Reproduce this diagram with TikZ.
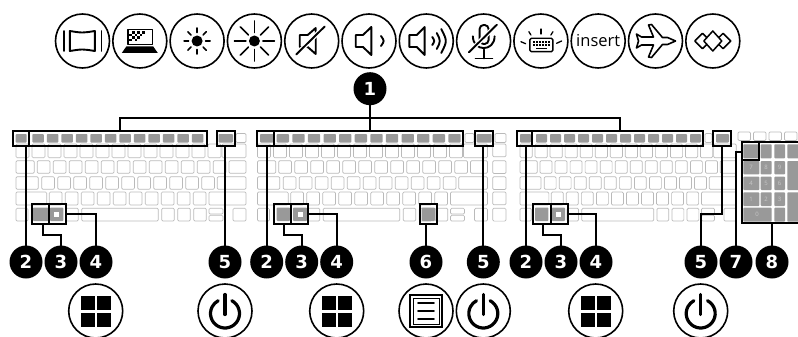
\documentclass[tikz,border=0pt]{standalone}
\usepackage{fontspec}
\usepackage{tikz, tkz-graph}
\setmainfont{Open Sans}
\newfontfamily\badgefont{DejaVu Sans}

\tikzset{
  keycap/.style={draw=black!27, line width=.7pt, rounded corners=1.2pt},
  graykey/.style={fill=black!40, rounded corners=.8pt},
  hlbox/.style={draw=black, line width=1.8pt, inner sep=0pt, outer sep=0pt},
  callout/.style={draw=black, line width=1.7pt},
  glyph/.style={line width=1.9pt, line join=round, line cap=round},
  numlabel/.style={text=black!22, inner sep=0pt, font=\fontsize{6}{6}\selectfont}
}

% one keyboard: left edge, horizontal scale
\newcommand{\KeyBlock}[2]{
  \begin{scope}[shift={(#1,0)},xscale=#2]
    \foreach \k in {0,...,12} \draw[keycap] ({\k*16},144) rectangle ++(13,13.7);
    \draw[keycap] (206,144) rectangle (230,157.7);
    \draw[keycap] (0,160.7) rectangle (18.3,173.3);
    \foreach \k in {0,...,11} \draw[keycap] ({21.3+\k*16},160.7) rectangle ++(12.7,12.6);
    \draw[keycap] (213,160.7) rectangle (230,173.3);
    \draw[keycap] (0,176.7) rectangle (22.3,189.3);
    \foreach \k in {0,...,10} \draw[keycap] ({25.7+\k*16},176.7) rectangle ++(12.7,12.6);
    \draw[keycap] (201.3,176.7) rectangle (230,189.3);
    \draw[keycap] (0,192) rectangle (30.7,205);
    \foreach \k in {0,...,9} \draw[keycap] ({33.3+\k*16},192) rectangle ++(12.7,13);
    \draw[keycap] (193,192) rectangle (230,205);
    \draw[keycap] (0,208.3) rectangle (12,221);
    \draw[keycap] (50,208.3) rectangle (62.3,221);
    \draw[keycap] (65.7,208.3) rectangle (142.3,221);
    \foreach \k in {0,1,2} \draw[keycap] ({145.7+\k*16},208.3) rectangle ++(12.6,12.7);
    \draw[keycap] (193,208.3) rectangle (207,214);
    \draw[keycap] (193,215.3) rectangle (207,221);
    \draw[keycap] (217,208.3) rectangle (230,221);
  \end{scope}
}

% function row: esc left/right, first F key, pitch, width, power left/right
\newcommand{\FnRow}[7]{
  \fill[graykey] (#1,134) rectangle (#2,142.5);
  \foreach \k in {0,...,11} \fill[graykey] ({#3+\k*#4},134) rectangle ++(#5,8.5);
  \fill[graykey] (#6,134) rectangle (#7,142.5);
}

\newcommand{\IconWin}[1]{
  \begin{scope}[shift={(#1)}]
    \fill (-15,-15.5) rectangle (-1,-1);
    \fill (1,-15.5) rectangle (15.5,-1);
    \fill (-15,1.5) rectangle (-1,15.5);
    \fill (1,1.5) rectangle (15.5,15.5);
  \end{scope}
}

\newcommand{\IconPower}[1]{
  \begin{scope}[shift={(#1)}]
    \draw[glyph, line width=3.2pt] (0,2.5) ++(62:14.5pt) arc (62:-242:14.5pt);
    \draw[glyph, line width=3.2pt] (0,-16.5) -- (0,3.5);
  \end{scope}
}

\begin{document}
\begin{tikzpicture}[x=1pt,y=-1pt]
  \useasboundingbox (0,0) rectangle (798,337);
  \GraphInit[vstyle=Normal]

  % keyboards
  \KeyBlock{16}{1}
  \KeyBlock{257.5}{1}
  \KeyBlock{520}{.94}
  \foreach \y in {144,160.7,176.7,192,208.3} \draw[keycap] (492.7,\y) rectangle ++(13.3,12.8);
  \FnRow{15.7}{26.7}{32.3}{14.5}{11.5}{218.5}{233}
  \FnRow{260}{273.3}{276.7}{15.6}{12.3}{476.7}{491.7}
  \FnRow{520}{531}{536}{14}{11}{716}{729}
  \draw[keycap] (236,133.5) rectangle (246,142.5);
  \draw[keycap] (465,133.5) rectangle (474,142.5);
  \draw[keycap] (495,133.5) rectangle (506,142.5);
  \draw[keycap] (705,133.5) rectangle (712,142.5);
  \foreach \k in {0,1,2,3} \draw[keycap] ({738+\k*15.5},132) rectangle ++(12.5,8.5);

  % pressed keys in the bottom row
  \foreach \a/\b in {33/48.3,50/63.3,276.7/290,293/307,535/548.3,551.7/565,421.7/435}
    \fill[graykey] (\a,207.5) rectangle (\b,221);
  \foreach \a in {56.5,300,558.5}
    \fill[white] (\a-2.5,211.7) rectangle ++(5,5);

  % number pad
  \fill[white] (740.5,141) rectangle (798,224);
  \foreach \y/\h in {144.3/14,161/13.3,176.7/13.3,192.3/13.7} {
    \fill[graykey] (743.3,\y) rectangle ++(16,\h);
    \fill[graykey] (760.7,\y) rectangle ++(11,\h);
    \fill[graykey] (774.3,\y) rectangle ++(10.7,\h);
  }
  \fill[graykey] (743.3,207.7) rectangle (771.7,221.7);
  \fill[graykey] (774.3,207.7) rectangle (785,221.7);
  \fill[graykey] (787.3,144.3) rectangle (800,158.3);
  \fill[graykey] (787.3,161) rectangle (800,190);
  \fill[graykey] (787.3,192.3) rectangle (800,221.7);
  \foreach \d/\x/\y in {7/751/167,8/766/167,9/779.5/167,4/751/183,5/766/183,6/779.5/183,1/751/199,2/766/199,3/779.5/199,0/757/214}
    \node[numlabel] (num\d) at (\x,\y) {\d};

  % highlight boxes
  \node[hlbox, minimum width=16.6, minimum height=15.4] (escA) at (21,138.4) {};
  \node[hlbox, minimum width=177.4, minimum height=15.4] (fnA) at (118,138.4) {};
  \node[hlbox, minimum width=18, minimum height=15.4] (powA) at (225.7,138.4) {};
  \node[hlbox, minimum width=16.7, minimum height=19.7] (fnkA) at (40.7,214.2) {};
  \node[hlbox, minimum width=17, minimum height=19.7] (winA) at (57.5,214.2) {};
  \node[hlbox, minimum width=17.3, minimum height=15.4] (escB) at (265.3,138.4) {};
  \node[hlbox, minimum width=188.7, minimum height=15.4] (fnB) at (368.4,138.4) {};
  \node[hlbox, minimum width=18.3, minimum height=15.4] (powB) at (484.2,138.4) {};
  \node[hlbox, minimum width=17, minimum height=19.7] (fnkB) at (282.5,214.2) {};
  \node[hlbox, minimum width=17.3, minimum height=19.7] (winB) at (299.7,214.2) {};
  \node[hlbox, minimum width=17.3, minimum height=19.7] (menuB) at (428.7,214.2) {};
  \node[hlbox, minimum width=15.6, minimum height=15] (escC) at (524.5,138.7) {};
  \node[hlbox, minimum width=171, minimum height=15] (fnC) at (617.8,138.7) {};
  \node[hlbox, minimum width=17.7, minimum height=15] (powC) at (722.2,138.7) {};
  \node[hlbox, minimum width=17.4, minimum height=19.7] (fnkC) at (542,214.2) {};
  \node[hlbox, minimum width=17, minimum height=19.7] (winC) at (559.2,214.2) {};
  \node[hlbox, minimum width=60, minimum height=81.6] (padC) at (771.7,182.5) {};
  \node[hlbox, minimum width=17.6, minimum height=18.3] (lockC) at (750.5,151.2) {};

  % numbered badges
  \tikzset{VertexStyle/.style={shape=circle, fill=black, text=white, inner sep=0pt,
      minimum size=33pt, font=\badgefont\bfseries\fontsize{18}{18}\selectfont}}
  \Vertex[x=370,y=88.7,L=1]{oneA}
  \Vertex[x=26,y=262,L=2]{twoA} \EA[unit=35,L=3](twoA){threeA} \EA[unit=35,L=4](threeA){fourA}
  \Vertex[x=225,y=262,L=5]{fiveA}
  \Vertex[x=266.7,y=262,L=2]{twoB} \EA[unit=35,L=3](twoB){threeB} \EA[unit=35,L=4](threeB){fourB}
  \Vertex[x=426,y=262,L=6]{sixB}
  \Vertex[x=483.3,y=262,L=5]{fiveB}
  \Vertex[x=526,y=262,L=2]{twoC} \EA[unit=35,L=3](twoC){threeC} \EA[unit=35,L=4](threeC){fourC}
  \Vertex[x=701,y=262,L=5]{fiveC}
  \Vertex[x=736,y=262,L=7]{sevenC}
  \Vertex[x=772,y=262,L=8]{eightC}

  % connectors
  \coordinate (hubA) at (370,118);
  \draw[callout] (oneA) -- (hubA);
  \draw[callout] (fnA.north -| 120,0) |- (hubA);
  \draw[callout] (fnB.north -| hubA) -- (hubA);
  \draw[callout] (fnC.north -| 620,0) |- (hubA);
  \draw[callout] (escA.south -| twoA) -- (twoA);
  \draw[callout] (powA.south -| fiveA) -- (fiveA);
  \draw[callout] (fnkA.south -| 43.3,0) -- (43.3,235) -| (threeA);
  \draw[callout] (winA.east) -| (fourA);
  \draw[callout] (escB.south -| twoB) -- (twoB);
  \draw[callout] (powB.south -| fiveB) -- (fiveB);
  \draw[callout] (fnkB.south -| 284.3,0) -- (284.3,235) -| (threeB);
  \draw[callout] (winB.east) -| (fourB);
  \draw[callout] (menuB.south -| sixB) -- (sixB);
  \draw[callout] (escC.south -| twoC) -- (twoC);
  \draw[callout] (fnkC.south -| 543.3,0) -- (543.3,235) -| (threeC);
  \draw[callout] (winC.east) -| (fourC);
  \draw[callout] (powC.south) -- (722.2,214.3) -| (fiveC);
  \draw[callout] (padC.west |- 0,152) -| (sevenC);
  \draw[callout] (padC.south -| eightC) -- (eightC);

  % icon rings
  \tikzset{VertexStyle/.style={shape=circle, draw=black, fill=white, line width=1.6pt,
      inner sep=0pt, minimum size=54pt}}
  \Vertex[x=82.5,y=41,NoLabel]{fullIcon}
  \EA[unit=57.3,NoLabel](fullIcon){laptopIcon}
  \EA[unit=57.3,NoLabel](laptopIcon){sunIcon}
  \EA[unit=57.3,NoLabel](sunIcon){bigsunIcon}
  \EA[unit=57.3,NoLabel](bigsunIcon){muteIcon}
  \EA[unit=57.3,NoLabel](muteIcon){downIcon}
  \EA[unit=57.3,NoLabel](downIcon){upIcon}
  \EA[unit=57.3,NoLabel](upIcon){micIcon}
  \EA[unit=57.3,NoLabel](micIcon){lightIcon}
  \EA[unit=57.3,NoLabel](lightIcon){insIcon}
  \EA[unit=57.3,NoLabel](insIcon){planeIcon}
  \EA[unit=57.3,NoLabel](planeIcon){copilotIcon}
  \Vertex[x=95.7,y=311,NoLabel]{winA1}
  \Vertex[x=225,y=311,NoLabel]{powA1}
  \Vertex[x=336.7,y=311,NoLabel]{winB1}
  \Vertex[x=426,y=311,NoLabel]{menuB1}
  \Vertex[x=483.3,y=311,NoLabel]{powB1}
  \Vertex[x=595.7,y=311,NoLabel]{winC1}
  \Vertex[x=700.7,y=311,NoLabel]{powC1}

  \IconWin{winA1} \IconWin{winB1} \IconWin{winC1}
  \IconPower{powA1} \IconPower{powB1} \IconPower{powC1}

  \begin{scope}[shift={(fullIcon)}]
    \draw[glyph] (-18.7,-10) -- (-18.7,10);
    \draw[glyph] (19,-10) -- (19,10);
    \draw[glyph] (-12.7,-10) .. controls (0,-8) .. (12.3,-10) -- (12.3,10) .. controls (0,8) .. (-12.7,10) -- cycle;
  \end{scope}
  \begin{scope}[shift={(laptopIcon)}]
    \draw[glyph, line width=1.3pt] (-11.7,-11.3) rectangle (13,3.7);
    \fill (-13.5,5.5) -- (13.5,5.5) -- (18,12) -- (-18,12) -- cycle;
    \foreach \i/\j in {0/1,1/0,1/2,2/1,3/0,3/2,4/1,5/0,0/3,2/3}
      \fill ({-10.5+\i*2.6},{-10+\j*2.6}) rectangle ++(2.6,2.6);
  \end{scope}
  \begin{scope}[shift={(sunIcon)}]
    \fill (0,0) circle (5.5pt);
    \foreach \a in {0,45,...,315} \draw[glyph, line width=1.6pt] (\a:8.5pt) -- (\a:13pt);
  \end{scope}
  \begin{scope}[shift={(bigsunIcon)}]
    \fill (0,0) circle (5.5pt);
    \foreach \a in {0,45,...,315} \draw[glyph, line width=1.6pt] (\a:8.5pt) -- (\a:20pt);
  \end{scope}
  \begin{scope}[shift={(muteIcon)}]
    \draw[glyph] (-12,-6) -- (-4,-6) -- (4,-13) -- (4,13) -- (-4,6) -- (-12,6) -- cycle;
    \draw[line width=4.5pt, white] (-15.5,13.5) -- (13,-14.5);
    \draw[glyph] (-15.5,13.5) -- (13,-14.5);
  \end{scope}
  \begin{scope}[shift={(downIcon)}]
    \draw[glyph] (-13.3,-6) -- (-6,-6) -- (2.3,-14) -- (2.3,14) -- (-6,6) -- (-13.3,6) -- cycle;
    \draw[glyph] (12,-5) .. controls (15.5,0) .. (12,5);
  \end{scope}
  \begin{scope}[shift={(upIcon)}]
    \draw[glyph] (-17,-6) -- (-9.5,-6) -- (-1.7,-14) -- (-1.7,14) -- (-9.5,6) -- (-17,6) -- cycle;
    \draw[glyph] (6,-4) .. controls (8.5,0) .. (6,4);
    \draw[glyph] (10.5,-8) .. controls (14.5,0) .. (10.5,8);
    \draw[glyph] (15,-12) .. controls (21,0) .. (15,12);
  \end{scope}
  \begin{scope}[shift={(micIcon)}]
    \draw[glyph, rounded corners=4pt] (-4,-16) rectangle (5,3);
    \draw[glyph] (-10.7,-4.7) .. controls (-10.7,11) and (11,11) .. (11,-4.7);
    \draw[glyph] (0,8.7) -- (0,17.5);
    \draw[glyph] (-8,17.5) -- (8.7,17.5);
    \draw[line width=4.5pt, white] (-14.7,11.3) -- (13.3,-16.3);
    \draw[glyph] (-14.7,11.3) -- (13.3,-16.3);
  \end{scope}
  \begin{scope}[shift={(lightIcon)}]
    \draw[glyph, line width=1.4pt, rounded corners=1.5pt] (-11,-2.7) rectangle (12,10.7);
    \foreach \i in {0,...,5} {
      \fill ({-8+\i*3.1},-.2) rectangle ++(1.9,1.9);
      \fill ({-8+\i*3.1},3.2) rectangle ++(1.9,1.9);
    }
    \fill (-5,7) rectangle (6.5,8.5);
    \draw[glyph, line width=1.3pt] (0,-12) -- (0,-7);
    \draw[glyph, line width=1.3pt] (-12,-9.3) -- (-10,-6);
    \draw[glyph, line width=1.3pt] (12,-9.3) -- (10,-6);
    \draw[glyph, line width=1.3pt] (-20,.7) -- (-15.3,2.7);
    \draw[glyph, line width=1.3pt] (20.7,0) -- (15.7,2.3);
  \end{scope}
  \node[inner sep=0pt, font=\fontsize{16.5}{16.5}\selectfont] (insText) at (insIcon) {insert};
  \begin{scope}[shift={(planeIcon)}]
    \draw[glyph, line width=1.6pt] (20,0) -- (12,-3.5) -- (7,-3.5) -- (-4,-16.5) -- (-7,-16) -- (-2,-4)
      -- (-14,-4) -- (-19,-7) -- (-17,0) -- (-19,7) -- (-14,4) -- (-2,4) -- (-7,16) -- (-4,16.5)
      -- (7,3.5) -- (12,3.5) -- cycle;
  \end{scope}
  \begin{scope}[shift={(copilotIcon)}]
    \draw[glyph, line width=1.5pt] (-9,0) -- (0,-10) -- (9,0) -- (0,10) -- cycle;
    \draw[glyph, line width=1.5pt] (-6,-3.4) -- (-10.3,-7.7) -- (-18,0) -- (-10.3,7.7) -- (-6,3.4);
    \draw[glyph, line width=1.5pt] (6,-3.4) -- (10.3,-7.7) -- (18,0) -- (10.3,7.7) -- (6,3.4);
  \end{scope}
  \begin{scope}[shift={(menuB1)}]
    \draw[line width=1.8pt] (-16,-16) rectangle (16,16);
    \draw[line width=.9pt] (-13,-13) rectangle (13,13);
    \foreach \y in {-8,0,8} \draw[glyph] (-8,\y) -- (8,\y);
  \end{scope}
\end{tikzpicture}
\end{document}
